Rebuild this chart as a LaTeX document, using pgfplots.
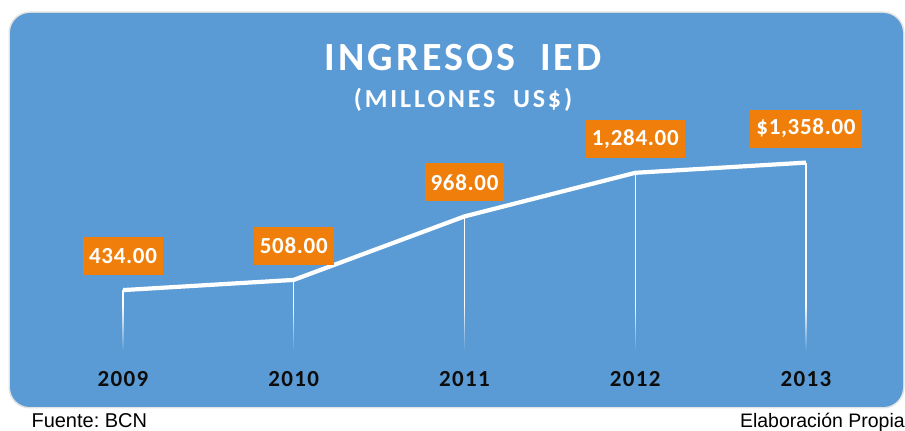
\documentclass[border=0pt]{standalone}
\usepackage{fontspec}
\setmainfont{Carlito}
\newfontfamily\titlefont[LetterSpace=8]{Carlito}
\newfontfamily\subfont[LetterSpace=11]{Carlito}
\newfontfamily\yearfont[LetterSpace=6]{Carlito}
\newfontfamily\valfont[LetterSpace=3]{Carlito}
\newfontfamily\arialfont{Liberation Sans}
\usepackage{pgfplots}
\pgfplotsset{compat=1.18}
\usetikzlibrary{fadings}
\definecolor{bgblue}{HTML}{5B9BD5}
\definecolor{lblorange}{HTML}{EF7F0A}
\definecolor{yeartext}{HTML}{0D0D0D}
\frenchspacing

\begin{document}
\begin{tikzpicture}[x=1pt,y=1pt]
\useasboundingbox (0,0) rectangle (905,431);
% card
\fill[gray!22, rounded corners=21] (8.5,22.5) rectangle (904.5,419.5);
\fill[bgblue, rounded corners=20] (10,24) rectangle (903,418);
\node[white, font=\titlefont\bfseries\fontsize{40}{44}\selectfont] at (463,373) {INGRESOS\ \ IED};
\node[white, font=\subfont\bfseries\fontsize{26}{29}\selectfont] at (463,331) {(MILLONES\ \ US\$)};

\begin{axis}[
  at={(123pt,81pt)}, anchor=south west,
  scale only axis, width=683pt, height=207pt,
  xmin=2009, xmax=2013, ymin=0, ymax=1500,
  axis lines=none, clip=false,
  xtick=\empty, ytick=\empty,
]
% drop lines
\addplot[white, line width=1.3pt, ycomb, mark=none] coordinates {
  (2009,434) (2010,508) (2011,968) (2012,1284) (2013,1358)};
% fade the foot of the drop lines into the background
\fill[bgblue, path fading=north] (axis cs:2008.9,-5) rectangle (axis cs:2013.1,330);
% main series
\addplot[white, line width=4.2pt, line join=round, mark=none,
  point meta=explicit symbolic,
  nodes near coords,
  every node near coord/.style={anchor=center, yshift=34pt, fill=lblorange,
    text=white, font=\valfont\bfseries\fontsize{23}{26}\selectfont,
    inner xsep=6pt, minimum height=38pt}]
  coordinates {
  (2009,434) [434.00]
  (2010,508) [508.00]
  (2011,968) [968.00]
  (2012,1284) [1,284.00]
  (2013,1358) [\$1,358.00]
};
% year labels
\node[text=yeartext, font=\yearfont\bfseries\fontsize{23}{26}\selectfont] at (axis cs:2009,0) [yshift=-29pt] {2009};
\node[text=yeartext, font=\yearfont\bfseries\fontsize{23}{26}\selectfont] at (axis cs:2010,0) [yshift=-29pt] {2010};
\node[text=yeartext, font=\yearfont\bfseries\fontsize{23}{26}\selectfont] at (axis cs:2011,0) [yshift=-29pt] {2011};
\node[text=yeartext, font=\yearfont\bfseries\fontsize{23}{26}\selectfont] at (axis cs:2012,0) [yshift=-29pt] {2012};
\node[text=yeartext, font=\yearfont\bfseries\fontsize{23}{26}\selectfont] at (axis cs:2013,0) [yshift=-29pt] {2013};
\end{axis}

\node[anchor=base west, font=\arialfont\fontsize{20}{22}\selectfont] at (28,3.5) {Fuente: BCN};
\node[anchor=base east, inner xsep=0pt, font=\arialfont\fontsize{19.5}{22}\selectfont] at (905,3.5) {Elaboración Propia};
\end{tikzpicture}
\end{document}
